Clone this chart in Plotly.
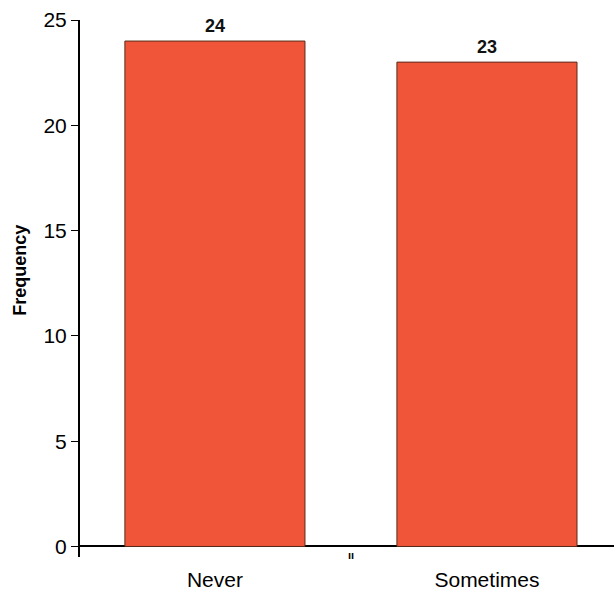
import plotly.graph_objects as go

categories = ["Never", "Sometimes"]
frequencies = [24, 23]
y_tick_values = [0, 5, 10, 15, 20, 25]
y_title = "Frequency"

FONT = "Arial, Liberation Sans, sans-serif"

fig = go.Figure()
fig.add_trace(go.Bar(
    x=list(range(len(categories))),
    y=frequencies,
    width=0.662,
    marker=dict(color="#F0553A", line=dict(color="#5a2a1a", width=1)),
    hoverinfo="skip",
))

for i, v in enumerate(frequencies):
    fig.add_annotation(x=i, y=v, text=f"<b>{v}</b>", showarrow=False,
                       yanchor="bottom", yshift=3,
                       font=dict(family=FONT, size=18, color="#111111"))

# small mark between categories
fig.add_annotation(x=0.5, y=0, text="<b>ıı</b>", showarrow=False, yanchor="top", yshift=-1,
                   font=dict(family=FONT, size=11, color="#000000"))

# y-axis title
fig.add_annotation(xref="paper", yref="paper", x=0, y=0.533, xshift=-60,
                   xanchor="center", yanchor="middle", textangle=-90,
                   text=f"<b>{y_title}</b>", showarrow=False,
                   font=dict(family=FONT, size=18, color="#000000"))

fig.update_layout(
    width=614, height=598,
    margin=dict(l=80, r=0, t=20, b=40.5),
    paper_bgcolor="white", plot_bgcolor="white",
    showlegend=False,
    font=dict(family=FONT, color="#000000"),
    xaxis=dict(
        range=[-0.496, 1.467],
        tickvals=list(range(len(categories))),
        ticktext=categories,
        tickfont=dict(size=21, family=FONT, color="#000000"),
        showline=False, showgrid=False, zeroline=False, ticks="",
        ticklabelstandoff=8,
        automargin=False,
    ),
    yaxis=dict(
        range=[-0.5, 25],
        tickvals=y_tick_values,
        tickfont=dict(size=21, family=FONT, color="#000000"),
        showline=True, linecolor="#000000", linewidth=2,
        ticks="outside", ticklen=7, tickwidth=1, tickcolor="#000000",
        showgrid=False,
        zeroline=True, zerolinecolor="#000000", zerolinewidth=2,
        automargin=False,
    ),
)

fig.write_html("out.html", config={"displayModeBar": False},
               post_script="document.body.style.margin='0';document.body.style.overflow='hidden';")
